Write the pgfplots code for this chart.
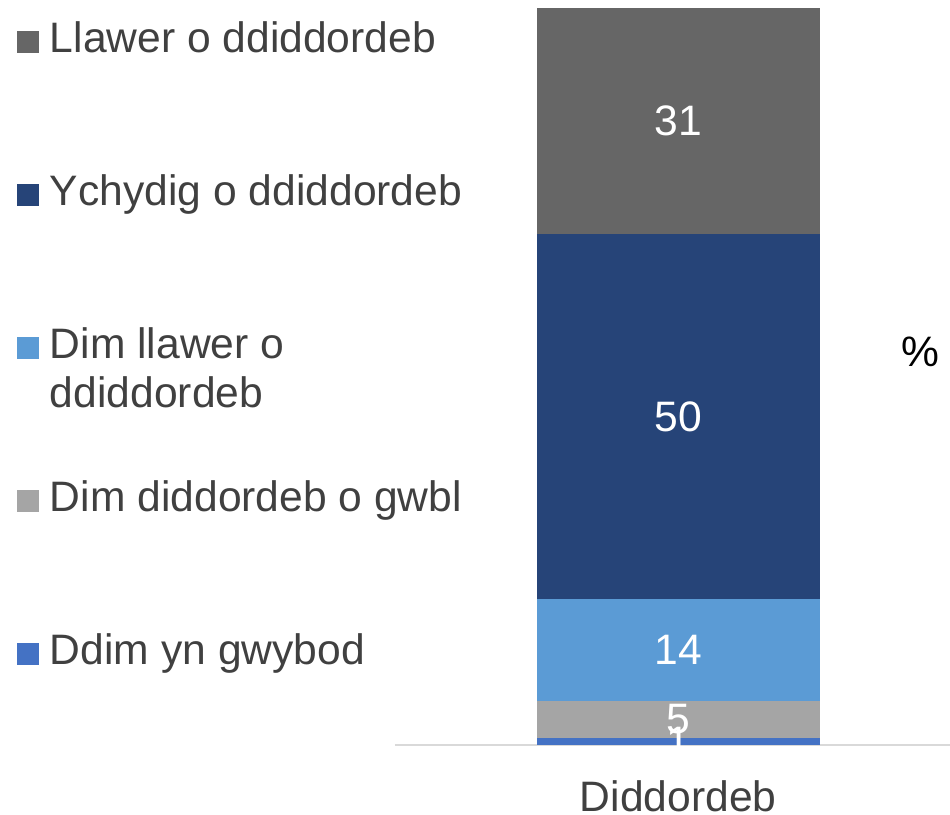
\documentclass[border=0pt]{standalone}
\usepackage{pgfplots}
\pgfplotsset{compat=1.18}
\usepackage{fontspec}
\setmainfont{Liberation Sans}

\definecolor{cLlawer}{HTML}{666666}
\definecolor{cYchydig}{HTML}{264478}
\definecolor{cDimLlawer}{HTML}{5B9BD5}
\definecolor{cDimDiddordeb}{HTML}{A5A5A5}
\definecolor{cDdim}{HTML}{4472C4}
\definecolor{darktext}{HTML}{404040}

\begin{document}
\fontsize{21.3pt}{24.3pt}\selectfont
\begin{tikzpicture}
\begin{axis}[
  scale only axis, width=277.5pt, height=368.5pt,
  ybar stacked, bar width=1,
  xmin=-1, xmax=0.96, ymin=0, ymax=101,
  axis y line=none, axis x line*=bottom,
  x axis line style={draw=black!15, line width=1pt, -},
  xtick={0}, xticklabels={Diddordeb}, major tick length=0pt,
  xticklabel style={text=darktext, inner sep=0pt, yshift=-17.5pt},
  /pgf/number format/assume math mode=true,
  visualization depends on=rawy \as \rawy,
  nodes near coords={\pgfmathprintnumber{\rawy}},
  every node near coord/.append style={text=white, anchor=center},
  reverse legend,
  legend cell align=left,
  legend image code/.code={\fill[#1] (0pt,-5.4pt) rectangle (10.8pt,5.4pt);},
  legend style={at={(axis description cs:0,1)}, anchor=north west,
    xshift=-189pt, yshift=-7pt, draw=none, fill=none, inner sep=0pt,
    text=darktext, row sep=57pt, column sep=5.5pt,
    nodes={inner sep=0pt, text height=15pt, text depth=4.5pt}},
]
\addplot[fill=cDdim, draw=none] coordinates {(0,1)};
\addlegendentry{Ddim yn gwybod}
\addplot[fill=cDimDiddordeb, draw=none] coordinates {(0,5)};
\addlegendentry{Dim diddordeb o gwbl}
\addplot[fill=cDimLlawer, draw=none] coordinates {(0,14)};
\addlegendentry{{\begin{tabular}[t]{@{}l@{}}Dim llawer o\\ddiddordeb\end{tabular}}}
\addplot[fill=cYchydig, draw=none] coordinates {(0,50)};
\addlegendentry{Ychydig o ddiddordeb}
\addplot[fill=cLlawer, draw=none] coordinates {(0,31)};
\addlegendentry{Llawer o ddiddordeb}
\node[anchor=center, text=black] at (rel axis cs:0.946,0.533) {\%};
\coordinate (bl) at (rel axis cs:0,0);
\coordinate (tr) at (rel axis cs:1,1);
\end{axis}
\pgfresetboundingbox
\path ([xshift=-197.5pt,yshift=-35pt]bl) rectangle ([yshift=4pt]tr);
\end{tikzpicture}
\end{document}
